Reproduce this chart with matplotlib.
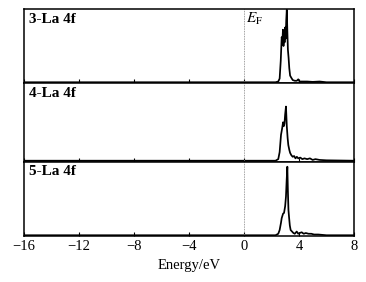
import matplotlib
matplotlib.use("Agg")
import matplotlib.pyplot as plt

# ---- data ----
labels = ["3-La 4f", "4-La 4f", "5-La 4f"]
xticks = [-16, -12, -8, -4, 0, 4, 8]

e1 = [-16, 2.3, 2.5, 2.6, 2.68, 2.75, 2.8, 2.84, 2.88, 2.92, 2.96, 3.0, 3.04, 3.08, 3.12,
      3.16, 3.2, 3.25, 3.3, 3.36, 3.45, 3.55, 3.7, 3.85, 3.95, 4.05, 4.3, 4.6, 5.0, 5.5, 6.0, 8]
d1 = [0.01, 0.01, 0.02, 0.06, 0.3, 0.62, 0.55, 0.72, 0.5, 0.68, 0.55, 0.75, 0.6, 0.85, 0.99,
      0.7, 0.45, 0.34, 0.2, 0.1, 0.07, 0.04, 0.03, 0.03, 0.05, 0.02, 0.02, 0.02, 0.015, 0.02, 0.01, 0.01]

e2 = [-16, 2.3, 2.5, 2.6, 2.7, 2.78, 2.85, 2.9, 2.95, 3.0, 3.06, 3.12, 3.18, 3.23, 3.3, 3.36,
      3.45, 3.55, 3.65, 3.75, 3.85, 3.95, 4.1, 4.25, 4.4, 4.6, 4.8, 5.0, 5.2, 5.5, 6.0, 8]
d2 = [0.01, 0.01, 0.03, 0.12, 0.34, 0.42, 0.5, 0.45, 0.48, 0.6, 0.7, 0.45, 0.3, 0.21, 0.15, 0.11,
      0.08, 0.06, 0.07, 0.04, 0.06, 0.04, 0.05, 0.03, 0.04, 0.03, 0.04, 0.02, 0.03, 0.02, 0.015, 0.01]

e3 = [-16, 2.3, 2.5, 2.6, 2.7, 2.75, 2.85, 2.92, 3.0, 3.06, 3.11, 3.16, 3.2, 3.24, 3.28, 3.34,
      3.4, 3.5, 3.6, 3.7, 3.84, 3.95, 4.05, 4.2, 4.35, 4.5, 4.7, 4.9, 5.1, 5.4, 6.0, 8]
d3 = [0.01, 0.01, 0.03, 0.08, 0.18, 0.24, 0.3, 0.31, 0.4, 0.53, 0.75, 0.93, 0.6, 0.35, 0.26, 0.14,
      0.08, 0.06, 0.04, 0.03, 0.06, 0.03, 0.04, 0.05, 0.03, 0.04, 0.03, 0.03, 0.02, 0.02, 0.01, 0.01]

energies = [e1, e2, e3]
dos = [d1, d2, d3]

plt.rcParams['font.family'] = ['Liberation Serif', 'DejaVu Serif']
plt.rcParams['mathtext.fontset'] = 'stix'

fig = plt.figure(figsize=(3.66, 2.82), dpi=100)
W, H = 366.0, 282.0
left, right = 23.5, 354.0
bounds = [(9, 83), (83, 161.5), (161.5, 236)]

axes = []
for i, (top, bot) in enumerate(bounds):
    ax = fig.add_axes([left / W, (H - bot) / H, (right - left) / W, (bot - top) / H])
    ax.plot(energies[i], dos[i], color='black', lw=1.25)
    ax.axvline(0, color='gray', lw=0.6, ls=(0, (1, 1)))
    ax.set_xlim(-16, 8)
    ax.set_ylim(0, 1.0)
    ax.set_yticks([])
    ax.set_xticks(xticks)
    ax.tick_params(axis='x', direction='in', length=3, width=0.8, labelsize=10.5, pad=3)
    for s in ax.spines.values():
        s.set_linewidth(1.1)
    ax.text(0.018, 0.95, labels[i], transform=ax.transAxes, ha='left', va='top',
            fontsize=11, fontweight='bold')
    if i < 2:
        ax.tick_params(axis='x', labelbottom=False)
    axes.append(ax)

axes[0].text(0.15, 0.97, r'$E_{\rm F}$', transform=axes[0].get_xaxis_transform(),
             ha='left', va='top', fontsize=11)
axes[2].set_xticklabels(['\u221216', '\u221212', '\u22128', '\u22124', '0', '4', '8'])
axes[2].set_xlabel('Energy/eV', fontsize=10.5, labelpad=4)

fig.savefig('out.png', dpi=100)
